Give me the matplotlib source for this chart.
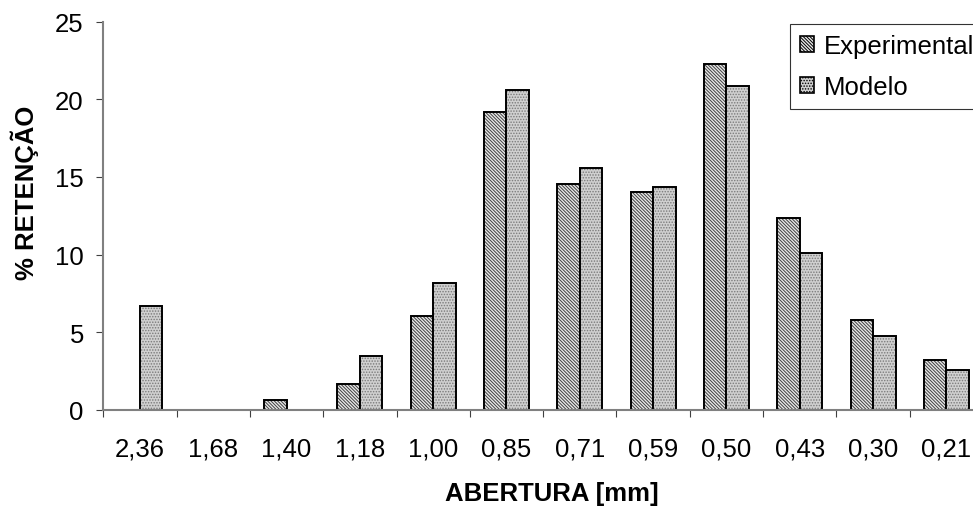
import matplotlib
matplotlib.use("Agg")
import matplotlib.pyplot as plt
import numpy as np
from matplotlib.patches import Patch

CATEGORIES = ["2,36", "1,68", "1,40", "1,18", "1,00", "0,85",
              "0,71", "0,59", "0,50", "0,43", "0,30", "0,21"]
EXPERIMENTAL = [0.0, 0.0, 0.64, 1.68, 6.06, 19.2, 14.56, 14.05, 22.29, 12.35, 5.80, 3.22]
MODELO = [6.70, 0.0, 0.0, 3.48, 8.14, 20.62, 15.59, 14.33, 20.88, 10.08, 4.77, 2.58]
SERIES_NAMES = ["Experimental", "Modelo"]
Y_TICKS = [0, 5, 10, 15, 20, 25]

W, H = 973, 510
FS = 18.5
plt.rcParams["font.family"] = ["Liberation Sans", "DejaVu Sans"]
plt.rcParams["hatch.linewidth"] = 0.7

fig = plt.figure(figsize=(W / 100, H / 100), dpi=100)
ax = fig.add_axes([103.3 / W, 1 - 410.7 / H, (983 - 103.3) / W, (410.7 - 22.7) / H])

x = np.arange(len(CATEGORIES))
bw = 0.307
styles = [
    dict(facecolor="#e8e8e8", hatch="\\" * 10, edgecolor="#404040"),
    dict(facecolor="#d0d0d0", hatch="......", edgecolor="#7a7a7a"),
]
for i, vals in enumerate([EXPERIMENTAL, MODELO]):
    pos = x + (i - 0.5) * bw
    vals = np.array(vals)
    mask = vals > 0
    ax.bar(pos[mask], vals[mask], width=bw, linewidth=0, **styles[i])
    ax.bar(pos[mask], vals[mask], width=bw, fill=False, edgecolor="black", linewidth=1.4)

ax.set_xlim(-0.5, len(CATEGORIES) - 0.5)
ax.set_ylim(0, 25)
ax.set_yticks(Y_TICKS)
ax.set_xticks(x)
ax.set_xticklabels(CATEGORIES)
ax.set_xticks(np.arange(len(CATEGORIES) + 1) - 0.5, minor=True)
ax.tick_params(axis="x", which="major", length=0, pad=19, labelsize=FS)
ax.tick_params(axis="x", which="minor", length=5, width=0.8, color="#404040")
ax.tick_params(axis="y", length=5, width=0.8, color="#404040", pad=9, labelsize=FS)

for s in ["top", "right"]:
    ax.spines[s].set_visible(False)
for s in ["left", "bottom"]:
    ax.spines[s].set_color("#808080")
    ax.spines[s].set_linewidth(1.5)

fig.text(25 / W, 1 - 192.5 / H, "% RETENÇÃO", rotation=90, ha="center", va="center",
         fontsize=FS, fontweight="bold")
fig.text(551.5 / W, 1 - 494 / H, "ABERTURA [mm]", ha="center", va="center",
         fontsize=FS, fontweight="bold")

handles = [Patch(facecolor=styles[i]["facecolor"], hatch=styles[i]["hatch"],
                 edgecolor="black", linewidth=1.2) for i in range(2)]
leg = fig.legend(handles, SERIES_NAMES, loc="upper left",
                 bbox_to_anchor=(790 / W, 1 - 25 / H), bbox_transform=fig.transFigure,
                 fontsize=FS, frameon=True, fancybox=False, borderaxespad=0,
                 handlelength=0.55, handleheight=0.55, handletextpad=0.35,
                 labelspacing=0.65, borderpad=0.4)
leg.get_frame().set_edgecolor("black")
leg.get_frame().set_linewidth(0.8)

fig.savefig("out.png", dpi=100)
